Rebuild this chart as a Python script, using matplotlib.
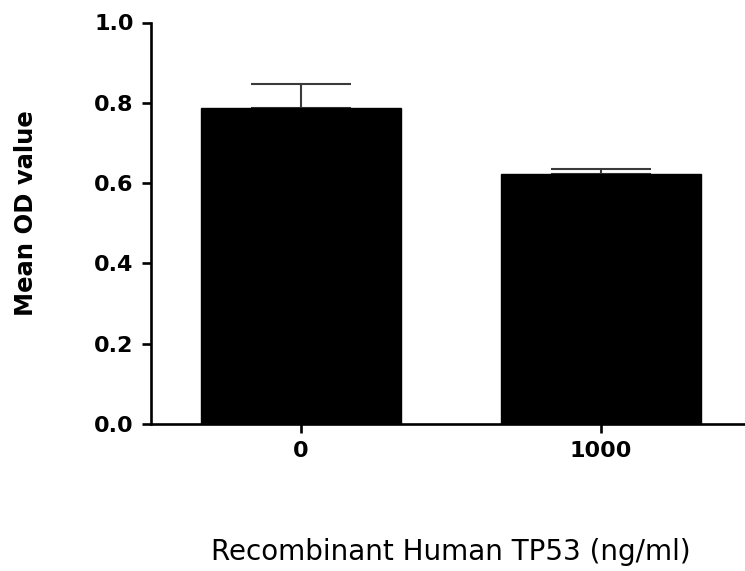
import matplotlib
matplotlib.use("Agg")
import matplotlib.pyplot as plt

categories = ["0", "1000"]
means = [0.787, 0.622]
errors_up = [0.060, 0.012]
yticks = [0.0, 0.2, 0.4, 0.6, 0.8, 1.0]
ytick_labels = ["0.0", "0.2", "0.4", "0.6", "0.8", "1.0"]

plt.rcParams['font.family'] = ['DejaVu Sans']

fig = plt.figure(figsize=(7.45, 5.71), dpi=100)
ax = fig.add_axes([151/745, (571-424)/571, 1 - 151/745, (424-22.5)/571])

x = list(range(len(categories)))
ax.bar(x, means, width=0.667, color='black', edgecolor='black', zorder=2)
ax.errorbar(x, means, yerr=[[0]*len(means), errors_up], fmt='none',
            ecolor='#3a3a3a', elinewidth=1.5, capsize=36, capthick=1.5, zorder=1)

ax.set_xlim(-0.5, 1.48)
ax.set_ylim(0, 1.0)

for s in ['top', 'right']:
    ax.spines[s].set_visible(False)
for s in ['left', 'bottom']:
    ax.spines[s].set_linewidth(1.9)
ax.tick_params(axis='both', width=1.9, length=6.5, direction='out')
ax.tick_params(axis='y', pad=6)
ax.tick_params(axis='x', pad=6)

ax.set_yticks(yticks)
ax.set_yticklabels(ytick_labels, fontweight='bold', fontsize=16)
ax.set_xticks(x)
ax.set_xticklabels(categories, fontweight='bold', fontsize=16)

fig.text(26/745, (571-213)/571, "Mean OD value", fontweight='bold', fontsize=17.5,
         rotation=90, ha='center', va='center')
fig.text(451/745, (571-552)/571, "Recombinant Human TP53 (ng/ml)", fontsize=20,
         ha='center', va='center')

fig.savefig("out.png", dpi=100)
